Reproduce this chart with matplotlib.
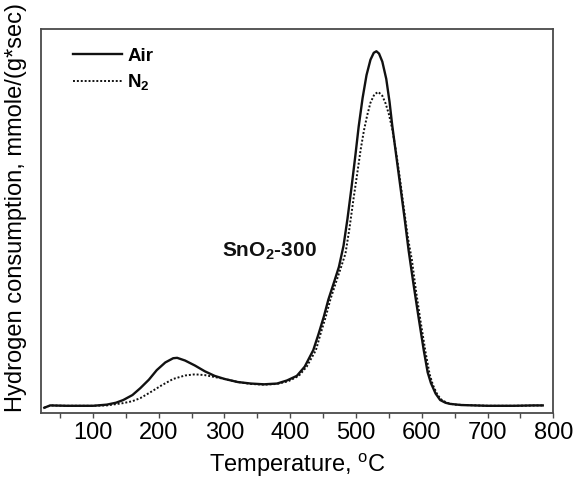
import matplotlib

matplotlib.use("Agg")
import matplotlib.pyplot as plt
from matplotlib.ticker import MultipleLocator

plt.rcParams["font.family"] = ["Liberation Sans", "DejaVu Sans"]
plt.rcParams["mathtext.fontset"] = "custom"
plt.rcParams["mathtext.rm"] = "Liberation Sans"
plt.rcParams["mathtext.bf"] = "Liberation Sans:bold"

INK = "#111111"
FRAME = "#4a4a4a"

# TPR traces (temperature in C, signal in arbitrary units 0-100)
air_temp = [26, 35, 60, 100, 121, 135, 146, 160, 172, 185, 197, 210, 222, 228, 240, 255,
            270, 285, 300, 320, 340, 360, 380, 395, 410, 422, 435, 443, 451, 458, 466, 474,
            481, 487, 493, 499, 504, 510, 516, 522, 527, 531, 535, 540, 546, 551, 555, 560,
            567, 574, 580, 587, 595, 603, 609, 614, 621, 628, 636, 643, 660, 700, 740, 770, 784]
air_val = [1.3, 1.9, 1.8, 1.8, 2.1, 2.6, 3.3, 4.6, 6.4, 8.6, 11.1, 13.1, 14.2, 14.3, 13.6, 12.3,
           10.8, 9.6, 8.8, 8.0, 7.6, 7.4, 7.6, 8.4, 9.6, 12.0, 16.3, 20.5, 25.0, 29.5, 33.7, 38.0,
           43.5, 50.5, 58.5, 67.0, 74.5, 82.0, 88.0, 92.0, 93.8, 94.2, 93.6, 91.5, 87.0, 81.0, 75.0, 68.5,
           59.5, 50.5, 42.3, 34.0, 25.0, 16.3, 10.5, 7.7, 5.0, 3.3, 2.6, 2.3, 2.0, 1.8, 1.8, 1.9, 1.9]

n2_temp = [26, 35, 60, 100, 121, 146, 160, 172, 187, 205, 222, 240, 255, 270, 285, 300, 320,
           340, 360, 380, 397, 413, 425, 439, 446, 454, 461, 469, 477, 484, 490, 496, 502,
           507, 512, 517, 522, 528, 534, 540, 545, 550, 555, 560, 566, 573, 579, 585, 591,
           598, 606, 612, 617, 624, 631, 640, 650, 700, 740, 784]
n2_val = [1.3, 1.9, 1.8, 1.8, 1.9, 2.5, 3.0, 3.8, 5.3, 7.2, 8.8, 9.7, 10.0, 9.8, 9.3, 8.8, 8.0,
          7.5, 7.3, 7.5, 8.2, 9.6, 12.0, 16.3, 20.5, 25.0, 29.5, 33.7, 37.8, 41.5, 48.0, 55.5, 62.5,
          68.5, 73.5, 77.5, 80.8, 83.0, 83.6, 82.6, 80.6, 77.8, 74.0, 69.0, 62.0, 53.0, 45.5, 39.8, 32.0,
          24.0, 15.5, 10.0, 7.2, 4.6, 3.2, 2.5, 2.1, 1.8, 1.8, 1.9]

fig = plt.figure(figsize=(5.77, 4.78), dpi=100)
ax = fig.add_axes([0.0711, 0.1366, 0.8878, 0.8027])

ax.plot(air_temp, air_val, color=INK, lw=1.7, label="Air")
ax.plot(n2_temp, n2_val, color=INK, lw=1.4, ls=(0, (1, 1)), label=r"N$_\mathbf{2}$")

ax.set_xlim(21, 800)
ax.set_ylim(0, 100)
ax.xaxis.set_major_locator(MultipleLocator(100))
ax.xaxis.set_minor_locator(MultipleLocator(50))
ax.set_yticks([])
ax.tick_params(axis="x", which="both", direction="out", length=3.5, width=1.0,
               color=FRAME, labelsize=17, pad=3, top=False)
for sp in ax.spines.values():
    sp.set_color(FRAME)
    sp.set_linewidth(1.3)

ax.set_xlabel(r"Temperature, $^{\rm o}$C", fontsize=17, labelpad=5)
ax.set_ylabel("Hydrogen consumption, mmole/(g*sec)", fontsize=17)
ax.yaxis.set_label_coords(-0.028, 0.536)

ax.text(369, 42.2, r"SnO$_\mathbf{2}$-300", fontsize=15, fontweight="bold",
        ha="center", va="center", color=INK)

leg = ax.legend(loc="upper left", bbox_to_anchor=(0.0625, 0.952), frameon=False,
                borderpad=0, borderaxespad=0, handlelength=2.6, handletextpad=0.3,
                labelspacing=0.45, prop={"size": 13.5, "weight": "bold"})

fig.savefig("out.png", dpi=100, facecolor="white")
